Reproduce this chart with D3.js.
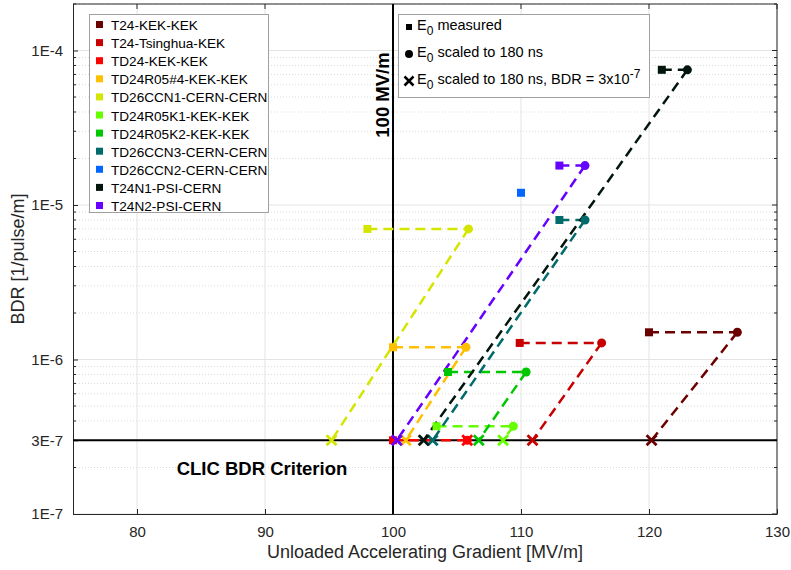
<!DOCTYPE html>
<html><head><meta charset="utf-8">
<script src="https://cdn.jsdelivr.net/npm/d3@7"></script>
<style>body{margin:0;background:#fff;font-family:"Liberation Sans",Arial,sans-serif;}</style>
</head><body><svg id="c" width="791" height="570"></svg>
<script>
const seriesNames = ["T24-KEK-KEK","T24-Tsinghua-KEK","TD24-KEK-KEK","TD24R05#4-KEK-KEK","TD26CCN1-CERN-CERN","TD24R05K1-KEK-KEK","TD24R05K2-KEK-KEK","TD26CCN3-CERN-CERN","TD26CCN2-CERN-CERN","T24N1-PSI-CERN","T24N2-PSI-CERN"];
const seriesColors = ["#6b0000","#c80000","#ff0000","#ffc000","#d4e600","#66ff00","#00c800","#006b6b","#0066ff","#02160e","#6600ff"];
const eMeasured   = [120.0, 109.9, 100.0, 100.0,  98.0, 103.4, 104.3, 113.0, 110.0, 121.0, 113.0];
const bdrMeasured = [1.5e-6, 1.28e-6, 3e-7, 1.2e-6, 7.0e-6, 3.7e-7, 8.3e-7, 8.0e-6, 1.2e-5, 7.5e-5, 1.8e-5];
const eScaled     = [126.9, 116.3, 105.8, 105.7, 105.9, 109.4, 110.4, 115.0, null, 123.0, 115.0];
const eAtCriterion= [120.2, 110.9, 105.8, 101.0,  95.2, 108.6, 106.7, 103.1, null, 102.4, 100.3];
const bdrCriterion = 3e-7;
const xTicks = [80, 90, 100, 110, 120, 130];
const yTicks = [1e-7, 3e-7, 1e-6, 1e-5, 1e-4];
const yTickLabels = ["1E-7","3E-7","1E-6","1E-5","1E-4"];
const markerLegend = ["measured","scaled to 180 ns","scaled to 180 ns, BDR = 3x10"];

const svg = d3.select("#c");
const L=73, R=777, T=4, B=514;
const x = d3.scaleLinear().domain([75,130]).range([L,R]);
const y = d3.scaleLog().domain([1e-7,2e-4]).range([B,T]);
const axisColor = "#262626";

// grid
const minorY = [];
for (let e=-7;e<=-4;e++) for (let m=2;m<=9;m++){ const v=m*Math.pow(10,e); if(v<=2e-4) minorY.push(v); }
const g = svg.append("g");
g.selectAll(".mg").data(minorY).enter().append("line")
 .attr("x1",L).attr("x2",R).attr("y1",d=>y(d)).attr("y2",d=>y(d))
 .attr("stroke","#dcdcdc").attr("stroke-width",1).attr("stroke-dasharray","1,2");
g.selectAll(".gx").data(xTicks).enter().append("line")
 .attr("x1",d=>x(d)).attr("x2",d=>x(d)).attr("y1",T).attr("y2",B)
 .attr("stroke","#e3e3e3").attr("stroke-width",1);
g.selectAll(".gy").data([1e-7,1e-6,1e-5,1e-4]).enter().append("line")
 .attr("x1",L).attr("x2",R).attr("y1",d=>y(d)).attr("y2",d=>y(d))
 .attr("stroke","#e3e3e3").attr("stroke-width",1);

// axes
const xAxis = d3.axisBottom(x).tickValues(xTicks).tickSizeInner(-5).tickSizeOuter(0).tickPadding(12);
const xa = svg.append("g").attr("transform",`translate(0,${B})`).call(xAxis);
const yAxis = d3.axisLeft(y).tickValues(yTicks).tickFormat((d,i)=>yTickLabels[i]).tickSizeInner(-5).tickSizeOuter(0).tickPadding(10);
const ya = svg.append("g").attr("transform",`translate(${L},0)`).call(yAxis);
[xa,ya].forEach(a=>{
  a.selectAll("path").attr("stroke",axisColor);
  a.selectAll("line").attr("stroke",axisColor);
  a.selectAll("text").attr("fill","#262626").attr("font-size","15px").attr("font-family","Liberation Sans, Arial, sans-serif");
});
// minor y ticks
svg.append("g").selectAll("line").data(minorY).enter().append("line")
 .attr("x1",L).attr("x2",L+3).attr("y1",d=>y(d)).attr("y2",d=>y(d)).attr("stroke",axisColor);
svg.append("g").selectAll("line").data(minorY).enter().append("line")
 .attr("x1",R).attr("x2",R-3).attr("y1",d=>y(d)).attr("y2",d=>y(d)).attr("stroke",axisColor);
// top / right box lines
svg.append("line").attr("x1",L).attr("x2",R).attr("y1",T).attr("y2",T).attr("stroke",axisColor);
svg.append("line").attr("x1",R).attr("x2",R).attr("y1",T).attr("y2",B).attr("stroke",axisColor);
svg.append("g").selectAll("line").data(xTicks).enter().append("line")
 .attr("x1",d=>x(d)).attr("x2",d=>x(d)).attr("y1",T).attr("y2",T+5).attr("stroke",axisColor);
svg.append("g").selectAll("line").data([1e-7,1e-6,1e-5,1e-4]).enter().append("line")
 .attr("x1",R).attr("x2",R-5).attr("y1",d=>y(d)).attr("y2",d=>y(d)).attr("stroke",axisColor);

// axis labels
svg.append("text").attr("x",425).attr("y",558).attr("text-anchor","middle")
 .attr("font-size","18px").attr("fill","#262626").text("Unloaded Accelerating Gradient [MV/m]");
svg.append("text").attr("transform",`translate(24,${(T+B)/2}) rotate(-90)`).attr("text-anchor","middle")
 .attr("font-size","18px").attr("fill","#262626").text("BDR [1/pulse/m]");

// reference lines
svg.append("line").attr("x1",L).attr("x2",R).attr("y1",y(bdrCriterion)).attr("y2",y(bdrCriterion)).attr("stroke","#000").attr("stroke-width",2);
svg.append("line").attr("x1",x(100)).attr("x2",x(100)).attr("y1",T).attr("y2",B).attr("stroke","#000").attr("stroke-width",2);
svg.append("text").attr("transform",`translate(${x(100)-4},95) rotate(-90)`).attr("text-anchor","middle")
 .attr("font-size","18.5px").attr("font-weight","bold").attr("fill","#000").text("100 MV/m");
svg.append("text").attr("x",262).attr("y",475).attr("text-anchor","middle")
 .attr("font-size","18.5px").attr("font-weight","bold").attr("fill","#000").text("CLIC BDR Criterion");

// data
const data = seriesNames.map((n,i)=>({name:n,color:seriesColors[i],em:eMeasured[i],b:bdrMeasured[i],es:eScaled[i],ec:eAtCriterion[i]}));
const plot = svg.append("g");
const dash = "10,6";
data.forEach(d=>{
  if (d.es===null) return;
  plot.append("line").attr("x1",x(d.em)).attr("x2",x(d.es)).attr("y1",y(d.b)).attr("y2",y(d.b))
    .attr("stroke",d.color).attr("stroke-width",2.5).attr("stroke-dasharray",dash);
  plot.append("line").attr("x1",x(d.es)).attr("x2",x(d.ec)).attr("y1",y(d.b)).attr("y2",y(bdrCriterion))
    .attr("stroke",d.color).attr("stroke-width",2.5).attr("stroke-dasharray",dash);
});
data.forEach(d=>{
  plot.append("rect").attr("x",x(d.em)-4).attr("y",y(d.b)-4).attr("width",8).attr("height",8).attr("fill",d.color);
  if (d.es===null) return;
  plot.append("circle").attr("cx",x(d.es)).attr("cy",y(d.b)).attr("r",4.5).attr("fill",d.color);
});
data.forEach(d=>{
  if (d.ec===null) return;
  const cx=x(d.ec), cy=y(bdrCriterion), s=5;
  plot.append("path").attr("d",`M${cx-s},${cy-s}L${cx+s},${cy+s}M${cx-s},${cy+s}L${cx+s},${cy-s}`)
    .attr("stroke",d.color).attr("stroke-width",2.8).attr("fill","none");
});

// legend 1
const lg = svg.append("g");
lg.append("rect").attr("x",89.5).attr("y",14.5).attr("width",179).attr("height",198).attr("fill","#fff").attr("stroke","#a0a0a0");
data.forEach((d,i)=>{
  const yy = 25 + i*18.1;
  lg.append("rect").attr("x",96).attr("y",yy-4).attr("width",7).attr("height",7).attr("fill",d.color);
  lg.append("text").attr("x",111).attr("y",yy+5).attr("font-size","13.6px").attr("fill","#000").text(d.name);
});

// legend 2
const l2 = svg.append("g");
l2.append("rect").attr("x",398.5).attr("y",14.5).attr("width",251).attr("height",83).attr("fill","#fff").attr("stroke","#a0a0a0");
const l2y = [25, 52, 79];
l2.append("rect").attr("x",406).attr("y",l2y[0]-1).attr("width",6).attr("height",6).attr("fill","#000");
l2.append("circle").attr("cx",409).attr("cy",l2y[1]+2).attr("r",4).attr("fill","#000");
{ const cx=409, cy=l2y[2]+2, s=4.5;
  l2.append("path").attr("d",`M${cx-s},${cy-s}L${cx+s},${cy+s}M${cx-s},${cy+s}L${cx+s},${cy-s}`).attr("stroke","#000").attr("stroke-width",2.5); }
markerLegend.forEach((t,i)=>{
  const tx = l2.append("text").attr("x",417).attr("y",l2y[i]+5).attr("font-size","14.5px").attr("fill","#000");
  tx.append("tspan").text("E");
  tx.append("tspan").attr("dy",5).attr("font-size","12px").text("0");
  tx.append("tspan").attr("dy",-5).text(" "+t);
  if (i===2) tx.append("tspan").attr("dy",-6).attr("font-size","12px").text("-7");
});
</script></body></html>
